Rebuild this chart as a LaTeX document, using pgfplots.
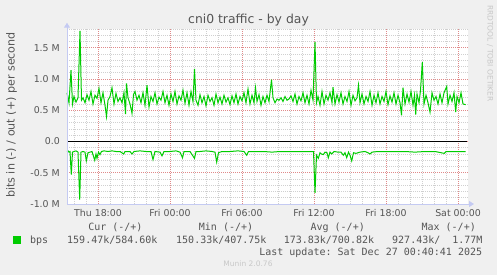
\documentclass[border=0pt]{standalone}
\usepackage{pgfplots}
\pgfplotsset{compat=1.18}
\usepackage{fontspec}
\setmainfont{DejaVu Sans}
\setmonofont{DejaVu Sans Mono}
\usetikzlibrary{arrows.meta}
\definecolor{bg}{HTML}{F0F0F0}
\definecolor{txt}{HTML}{555555}
\definecolor{mgrid}{HTML}{E08A8A}
\definecolor{ngrid}{HTML}{D0D0D0}
\definecolor{axc}{HTML}{C4CAF2}
\definecolor{grn}{HTML}{00CC00}
\definecolor{wm}{HTML}{C8C8C8}
\begin{document}
\begin{tikzpicture}[x=1bp,y=1bp]
\path[use as bounding box, fill=bg] (0,0) rectangle (497,275);
\begin{axis}[
  at={(67bp,71bp)}, anchor=south west,
  scale only axis, width=401bp, height=175bp,
  xmin=67, xmax=468, ymin=-1, ymax=1.8,
  clip=false,
  axis background/.style={fill=white},
  axis line style={draw=none},
  major tick length=0pt, minor tick length=0pt,
  xtick={98,170,242,314,386,458},
  xticklabels={Thu 18:00,Fri 00:00,Fri 06:00,Fri 12:00,Fri 18:00,Sat 00:00},
  minor xtick={74,86,110,122,134,146,158,182,194,206,218,230,254,266,278,290,302,326,338,350,362,374,398,410,422,434,446},
  ytick={-1,-0.5,0,0.5,1,1.5},
  yticklabels={-1.0 M,-0.5 M,0.0,0.5 M,1.0 M,1.5 M},
  minor ytick={-0.9,-0.8,-0.7,-0.6,-0.4,-0.3,-0.2,-0.1,0.1,0.2,0.3,0.4,0.6,0.7,0.8,0.9,1.1,1.2,1.3,1.4,1.6,1.7,1.8},
  grid=both,
  major grid style={mgrid, line width=0.8bp, dash pattern=on 1bp off 1bp},
  minor grid style={ngrid, line width=0.8bp, dash pattern=on 1bp off 1bp},
  ticklabel style={font=\fontsize{9.4bp}{11bp}\selectfont, text=txt, inner sep=0pt},
  yticklabel style={anchor=east, xshift=-7bp},
  xticklabel style={anchor=north, yshift=-5bp},
]
\addplot[grn, line width=1bp, no markers] coordinates {
(67,0.78) (69,0.62) (71,1.14) (72.5,0.60) (74,0.72) (76,0.63) (78,0.70) (80,1.77) (81.5,0.66) (83,0.70)
(85,0.62) (87,0.75) (89,0.66) (91,0.80) (93,0.60) (95,0.74) (97,0.69) (99,0.85) (101,0.62) (103,0.78)
(105,0.58) (106.5,0.40) (108,0.66) (110,0.72) (112,0.86) (114,0.60) (116,0.77) (118,0.64) (120,0.70) (122,0.62)
(124,0.78) (125.5,0.44) (126.5,0.93) (128,0.70) (130,0.60) (132,0.45) (133.5,0.75) (135,0.80) (137,0.66) (139,0.74)
(141,0.62) (143,0.78) (145,0.58) (147,0.90) (149,0.55) (151,0.72) (153,0.64) (155,0.78) (157,0.60) (159,0.71)
(161,0.66) (163,0.80) (165,0.62) (167,0.74) (169,0.58) (171,0.76) (173,0.64) (175,0.80) (177,0.60) (179,0.73)
(181,0.66) (183,0.82) (185,0.61) (187,0.78) (189,0.58) (191,0.80) (193,0.64) (194.5,1.16) (196,0.66) (198,0.58)
(200,0.75) (202,0.62) (204,0.72) (206,0.57) (208,0.74) (210,0.64) (212,0.70) (214,0.58) (216,0.76) (218,0.62)
(220,0.71) (222,0.60) (224,0.74) (226,0.63) (228,0.70) (230,0.59) (232,0.73) (234,0.62) (236,0.76) (238,0.60)
(240,0.72) (242,0.65) (244,0.78) (246,0.62) (248,0.84) (250,0.60) (252,0.74) (254,0.62) (255.5,0.86) (257,0.64)
(259,0.75) (261,0.58) (263,0.72) (265,0.62) (267,0.74) (269,0.64) (271.5,0.99) (273,0.70) (275,0.62) (277,0.68)
(279,0.66) (281,0.70) (283,0.64) (285,0.72) (287,0.66) (289,0.68) (291,0.73) (293,0.64) (295,0.76) (297,0.60)
(299,0.72) (301,0.65) (303,0.78) (305,0.62) (307,0.74) (309,0.60) (311,0.82) (313,0.66) (315,1.59) (316.5,0.62)
(318,0.72) (320,0.58) (322,0.80) (324,0.60) (326,0.74) (328,0.66) (330,0.78) (332,0.62) (333,0.87) (335,0.60)
(337,0.75) (339,0.63) (341,0.78) (343,0.60) (345,0.72) (347,0.64) (349,0.80) (351,0.58) (353,0.74) (355,0.65)
(357,0.70) (358.5,0.90) (360,0.62) (362,0.76) (364,0.60) (366,0.72) (368,0.64) (370,0.80) (372,0.58) (374,0.74)
(376,0.62) (378,0.78) (380,0.60) (382,0.72) (384,0.64) (386,0.80) (388,0.59) (390,0.73) (392,0.63) (394,0.78)
(396,0.60) (398,0.74) (400,0.62) (401.5,0.42) (403,0.86) (405,0.60) (407,0.76) (409,0.63) (411,0.80) (413,0.58)
(414.5,0.74) (415.7,0.43) (417,0.76) (419,0.62) (420.5,0.82) (422.3,1.27) (424,0.60) (426,0.74) (428,0.62) (430,0.47)
(432,0.78) (434,0.66) (436,0.72) (438,0.60) (440,0.76) (442,0.62) (444,0.78) (446.7,0.88) (448,0.60) (450,0.74)
(452,0.64) (454,0.78) (455.7,0.47) (457,0.72) (459,0.62) (461,0.78) (463,0.60) (465.7,0.59)
};
\addplot[grn, line width=1bp, no markers] coordinates {
(67,-0.16) (68,-0.15) (69,-0.17) (70,-0.16) (71.3,-0.53) (72.5,-0.17) (74,-0.16) (76,-0.15) (78,-0.17) (79.7,-0.93)
(81,-0.17) (83,-0.16) (85,-0.17) (86.3,-0.31) (88,-0.18) (90,-0.17) (92,-0.16) (94.7,-0.30) (96,-0.20) (97,-0.27)
(98.5,-0.17) (100,-0.21) (101.5,-0.16) (104,-0.15) (108,-0.16) (112,-0.15) (116,-0.16) (120,-0.16) (123.7,-0.20) (125,-0.16)
(130,-0.16) (132,-0.20) (134,-0.16) (140,-0.15) (146,-0.16) (151,-0.16) (153,-0.29) (155,-0.16) (160,-0.17) (162,-0.23)
(164,-0.16) (170,-0.16) (176,-0.15) (180,-0.17) (182.5,-0.26) (184,-0.16) (190,-0.16) (194.5,-0.27) (196,-0.16) (200,-0.16)
(206,-0.15) (212,-0.16) (215,-0.17) (216.7,-0.33) (218.5,-0.18) (222,-0.16) (230,-0.16) (238,-0.15) (244,-0.16) (246.7,-0.22)
(248.5,-0.16) (256,-0.16) (264,-0.16) (272,-0.17) (280,-0.16) (290,-0.16) (300,-0.16) (310,-0.16) (313.5,-0.16) (315,-0.82)
(316.5,-0.22) (318.3,-0.27) (320,-0.18) (321.5,-0.20) (323.3,-0.21) (325,-0.17) (327,-0.18) (328.3,-0.26) (330,-0.17) (331.7,-0.20)
(334,-0.16) (338,-0.17) (341,-0.17) (343.3,-0.22) (345,-0.18) (346.7,-0.26) (348.5,-0.17) (350,-0.22) (351.7,-0.31) (353.5,-0.18)
(356,-0.19) (360,-0.17) (365,-0.16) (368,-0.18) (370,-0.20) (372,-0.17) (378,-0.16) (386,-0.16) (395,-0.16) (405,-0.16)
(415,-0.17) (425,-0.16) (435,-0.16) (444.3,-0.19) (446,-0.16) (455,-0.16) (465.7,-0.16)
};
\addplot[black, line width=1bp, no markers] coordinates {(67,0) (467,0)};
\draw[axc, line width=1bp, -{Triangle[length=5bp,width=6bp]}] (axis cs:67,-1) -- (axis cs:474,-1);
\draw[axc, line width=1bp, -{Triangle[length=5bp,width=6bp]}] (axis cs:67,-1) -- (axis cs:67,1.9);
\end{axis}
\node[anchor=base, text=txt, font=\fontsize{12.4bp}{14bp}\selectfont] at (248.5,251.7) {cni0 traffic - by day};
\node[rotate=90, text=txt, font=\fontsize{11.1bp}{13bp}\selectfont] at (11.5,160) {bits in (-) / out (+) per second};
\begin{scope}[every node/.style={text=txt, font=\fontsize{10bp}{12bp}\ttfamily, inner sep=0pt}]
\node[anchor=base east] at (142.7,44.5) {Cur (-/+)};
\node[anchor=base east] at (253.3,44.5) {Min (-/+)};
\node[anchor=base east] at (365,44.5) {Avg (-/+)};
\node[anchor=base east] at (476,44.5) {Max (-/+)};
\node[anchor=base west] at (30,31.7) {bps};
\node[anchor=base east] at (157.7,31.7) {159.47k/584.60k};
\node[anchor=base east] at (266.7,31.7) {150.33k/407.75k};
\node[anchor=base east] at (374.3,31.7) {173.83k/700.82k};
\node[anchor=base east] at (482.7,31.7) {927.43k/\ \ 1.77M};
\node[anchor=base east] at (482.3,20) {Last update: Sat Dec 27 00:40:41 2025};
\end{scope}
\fill[grn] (13,31) rectangle (21,39);
\node[anchor=base, text=wm, font=\fontsize{7.5bp}{9bp}\selectfont, inner sep=0pt] at (248,8.3) {Munin 2.0.76};
\node[rotate=-90, anchor=west, text=wm, font=\fontsize{7.5bp}{9bp}\selectfont, inner sep=0pt] at (490,270) {RRDTOOL / TOBI OETIKER};
\end{tikzpicture}
\end{document}
